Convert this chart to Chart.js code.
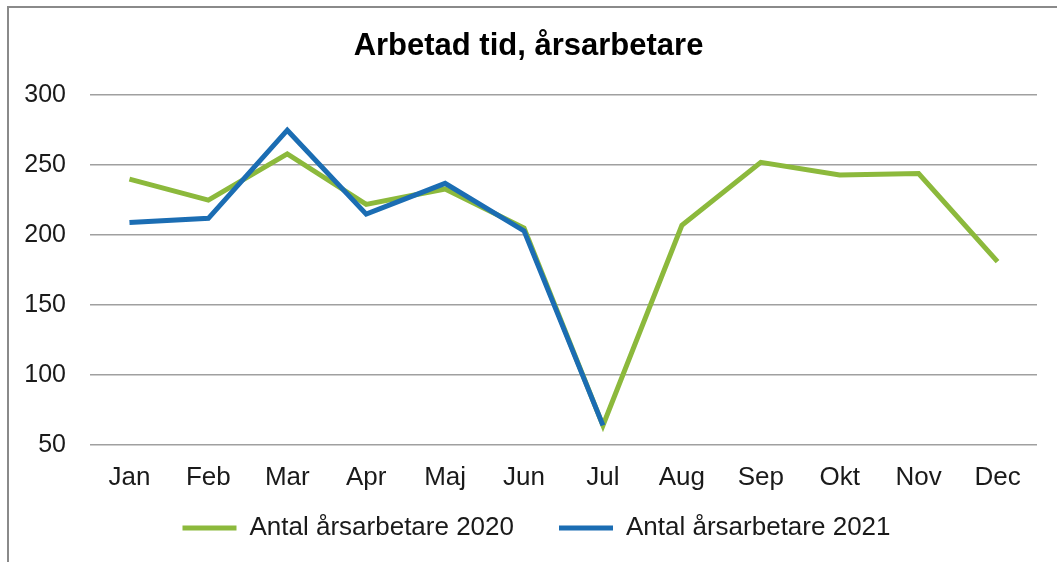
<!DOCTYPE html>
<html>
<head>
<meta charset="utf-8">
<script src="https://cdn.jsdelivr.net/npm/chart.js@4"></script>
<style>
  html, body { margin: 0; padding: 0; background: #fff; }
  #wrap { position: relative; width: 1057px; height: 562px; overflow: hidden; }
  #frame { position: absolute; left: 7px; top: 6px; right: -10px; bottom: -10px;
           border-left: 2px solid #8a8a8a; border-top: 2px solid #8a8a8a; }
  #chart { position: absolute; left: 0; top: 0; }
</style>
</head>
<body>
<div id="wrap">
  <div id="frame"></div>
  <canvas id="chart" width="1057" height="562"></canvas>
</div>
<script>
// Data
const months = ['Jan', 'Feb', 'Mar', 'Apr', 'Maj', 'Jun', 'Jul', 'Aug', 'Sep', 'Okt', 'Nov', 'Dec'];
const values2020 = [240, 225, 258, 222, 233, 205, 64, 207, 252, 243, 244, 181];
const values2021 = [209, 212, 275, 215, 237, 203, 64, null, null, null, null, null];
const yTicks = [50, 100, 150, 200, 250, 300];

const FONT = '"Liberation Sans", Arial, sans-serif';
const textColor = '#1a1a1a';

// nudge title and legend so they sit like in the reference (centred on the page, legend row at y=528)
const placeBoxes = {
    id: 'placeBoxes',
    afterLayout(chart) {
        const t = chart.titleBlock;
        if (t) { t.left += 10; t.right += 10; }
        const lg = chart.legend;
        if (lg) {
            lg.top = 528 - 45 - 13;
            lg.bottom = 562;
            lg.left += 18; lg.right += 18;
        }
    }
};

const ctx = document.getElementById('chart').getContext('2d');

new Chart(ctx, {
    type: 'line',
    data: {
        labels: months,
        datasets: [{
            label: 'Antal årsarbetare 2020',
            data: values2020,
            borderColor: '#8cb93c',
            borderWidth: 5,
            pointRadius: 0,
            order: 1
        }, {
            label: 'Antal årsarbetare 2021',
            data: values2021,
            borderColor: '#1b6db3',
            borderWidth: 5,
            pointRadius: 0,
            order: 0
        }]
    },
    plugins: [placeBoxes],
    options: {
        responsive: false,
        animation: false,
        layout: { padding: { left: 0, right: 20, top: 0, bottom: 0 } },
        plugins: {
            title: {
                display: true,
                text: 'Arbetad tid, årsarbetare',
                color: '#000',
                font: { family: FONT, size: 31, weight: 'bold' },
                padding: { top: 28, bottom: 30 }
            },
            legend: {
                position: 'bottom',
                maxHeight: 69,
                labels: {
                    color: textColor,
                    font: { family: FONT, size: 26 },
                    boxWidth: 54,
                    boxHeight: 5,
                    padding: 45,
                    generateLabels: (chart) => chart.data.datasets.map((ds, i) => ({
                        text: ds.label,
                        fillStyle: ds.borderColor,
                        strokeStyle: ds.borderColor,
                        lineWidth: 0,
                        hidden: false,
                        datasetIndex: i,
                        fontColor: textColor
                    }))
                }
            },
            tooltip: { enabled: false }
        },
        scales: {
            x: {
                offset: true,
                grid: { display: false, drawTicks: false },
                border: { display: false },
                ticks: { color: textColor, font: { family: FONT, size: 26 }, padding: 17, maxRotation: 0 },
                afterFit: (scale) => { scale.height = 48; }
            },
            y: {
                min: 50,
                max: 300,
                afterBuildTicks: (scale) => { scale.ticks = yTicks.map(v => ({ value: v })); },
                grid: { color: '#a0a0a0', lineWidth: 1.5, drawTicks: false },
                border: { display: false },
                ticks: { color: textColor, font: { family: FONT, size: 25 }, padding: 24 },
                afterFit: (scale) => { scale.width = 90; }
            }
        }
    }
});
</script>
</body>
</html>
